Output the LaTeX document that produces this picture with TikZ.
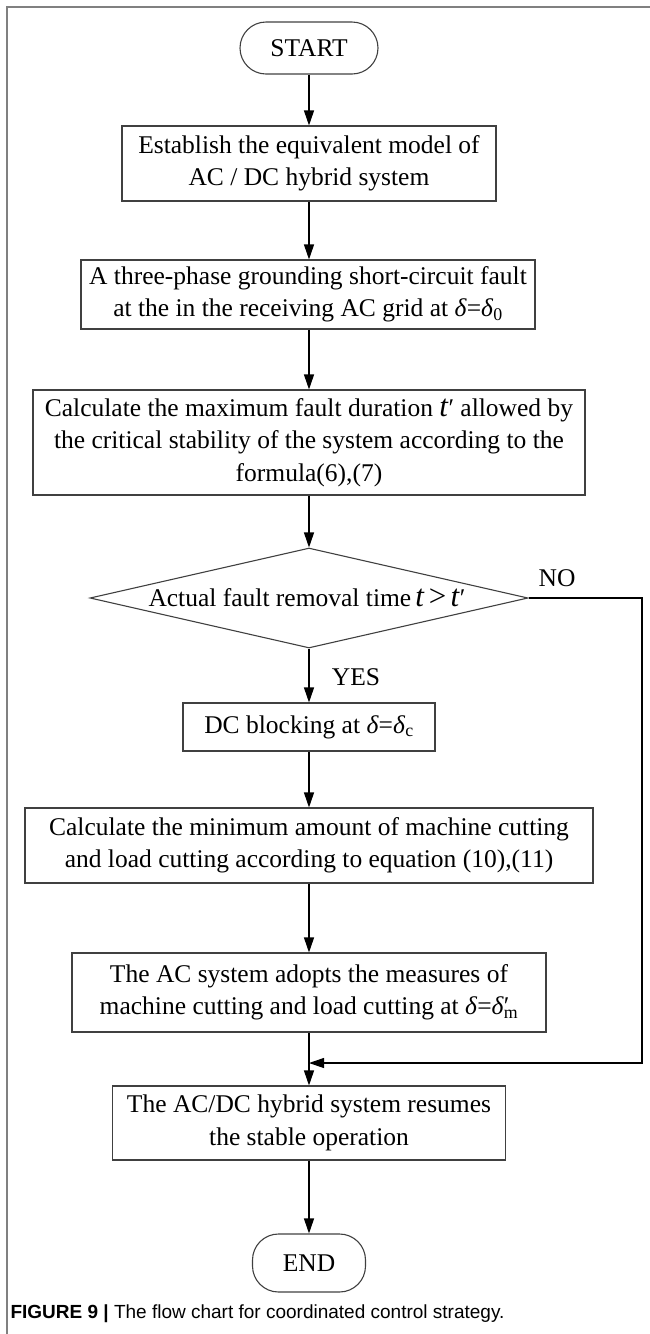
\documentclass[tikz,border=0pt]{standalone}
\usepackage{fontspec}
\setmainfont{Liberation Serif}
\newfontfamily\capfont{Liberation Sans}
\usetikzlibrary{arrows.meta,shapes.geometric}
\newcommand\bigt[1]{{\fontsize{31}{31}\selectfont\textit{#1}}}
\begin{document}
\begin{tikzpicture}[x=1pt,y=-1pt,line width=1.1pt,
  box/.style={draw=black!75,rectangle,inner sep=0pt,align=center,font=\fontsize{25.5}{32.5}\selectfont},
  term/.style={draw=black!75,rectangle,rounded corners=26pt,inner sep=0pt,font=\fontsize{25.5}{32}\selectfont},
  lbl/.style={inner sep=0pt,font=\fontsize{25.5}{32}\selectfont},
  arr/.style={draw=black,-{Triangle[length=15pt,width=10pt]}}]
\useasboundingbox (0,0) rectangle (650,1334);
\draw[draw=black!50,line width=1.5pt] (7,1334) -- (7,7) -- (650,7);
\node[term,minimum width=138pt,minimum height=52pt] (start) at (309,48) {START};
\node[box,minimum width=374pt,minimum height=75pt] (b1) at (309,163.5) {Establish the equivalent model of\\AC / DC hybrid system};
\node[box,minimum width=454pt,minimum height=69pt] (b2) at (308,294.5) {A three-phase grounding short-circuit fault\\at the in the receiving AC grid at \textit{δ}=\textit{δ}\textsubscript{0}};
\node[box,minimum width=552pt,minimum height=105pt] (b3) at (309,442.5) {Calculate the maximum fault duration \bigt{t}′ allowed by\\the critical stability of the system according to the\\formula(6),(7)};
\node[diamond,draw=black!75,minimum width=438pt,minimum height=100pt,inner sep=0pt,aspect=4.38] (d) at (309,598) {};
\node[lbl] (dt) at (307,598) {Actual fault removal time\,\bigt{t}\,{\fontsize{31}{31}\selectfont>}\,\bigt{t}′};
\node[lbl] (yes) at (356,677) {YES};
\node[lbl] (no) at (557,578) {NO};
\node[box,minimum width=252pt,minimum height=48pt] (b4) at (309,727) {DC blocking at \textit{δ}=\textit{δ}\textsubscript{c}};
\node[box,minimum width=568pt,minimum height=75pt] (b5) at (309,845.5) {Calculate the minimum amount of machine cutting\\and load cutting according to equation (10),(11)};
\node[box,minimum width=474pt,minimum height=79pt] (b6) at (309,992.5) {The AC system adopts the measures of\\machine cutting and load cutting at \textit{δ}=\textit{δ}\rlap{′}\textsubscript{m}};
\node[box,minimum width=393pt,minimum height=74pt] (b7) at (309,1123) {The AC/DC hybrid system resumes\\the stable operation};
\node[term,minimum width=113pt,minimum height=58pt] (end) at (309,1263) {END};
\coordinate (c1) at (642,598);
\coordinate (c2) at (642,1063);
\coordinate (m) at (309,1063);
\draw[arr] (start) -- (b1);
\draw[arr] (b1) -- (b1 |- b2.north);
\draw[arr] (b2.south -| b3) -- (b3);
\draw[arr] (b3) -- (d);
\draw[arr] (d) -- (b4);
\draw[arr] (b4) -- (b5);
\draw[arr] (b5) -- (b6);
\draw[arr] (b6) -- (b7);
\draw[arr] (d.east) -- (c1) -- (c2) -- (m);
\draw[arr] (b7) -- (end);
\node[anchor=west,inner sep=0pt,font=\capfont\fontsize{19}{21}\selectfont] (cap) at (10,1314) {\textbf{FIGURE 9 |} The flow chart for coordinated control strategy.};
\end{tikzpicture}
\end{document}
